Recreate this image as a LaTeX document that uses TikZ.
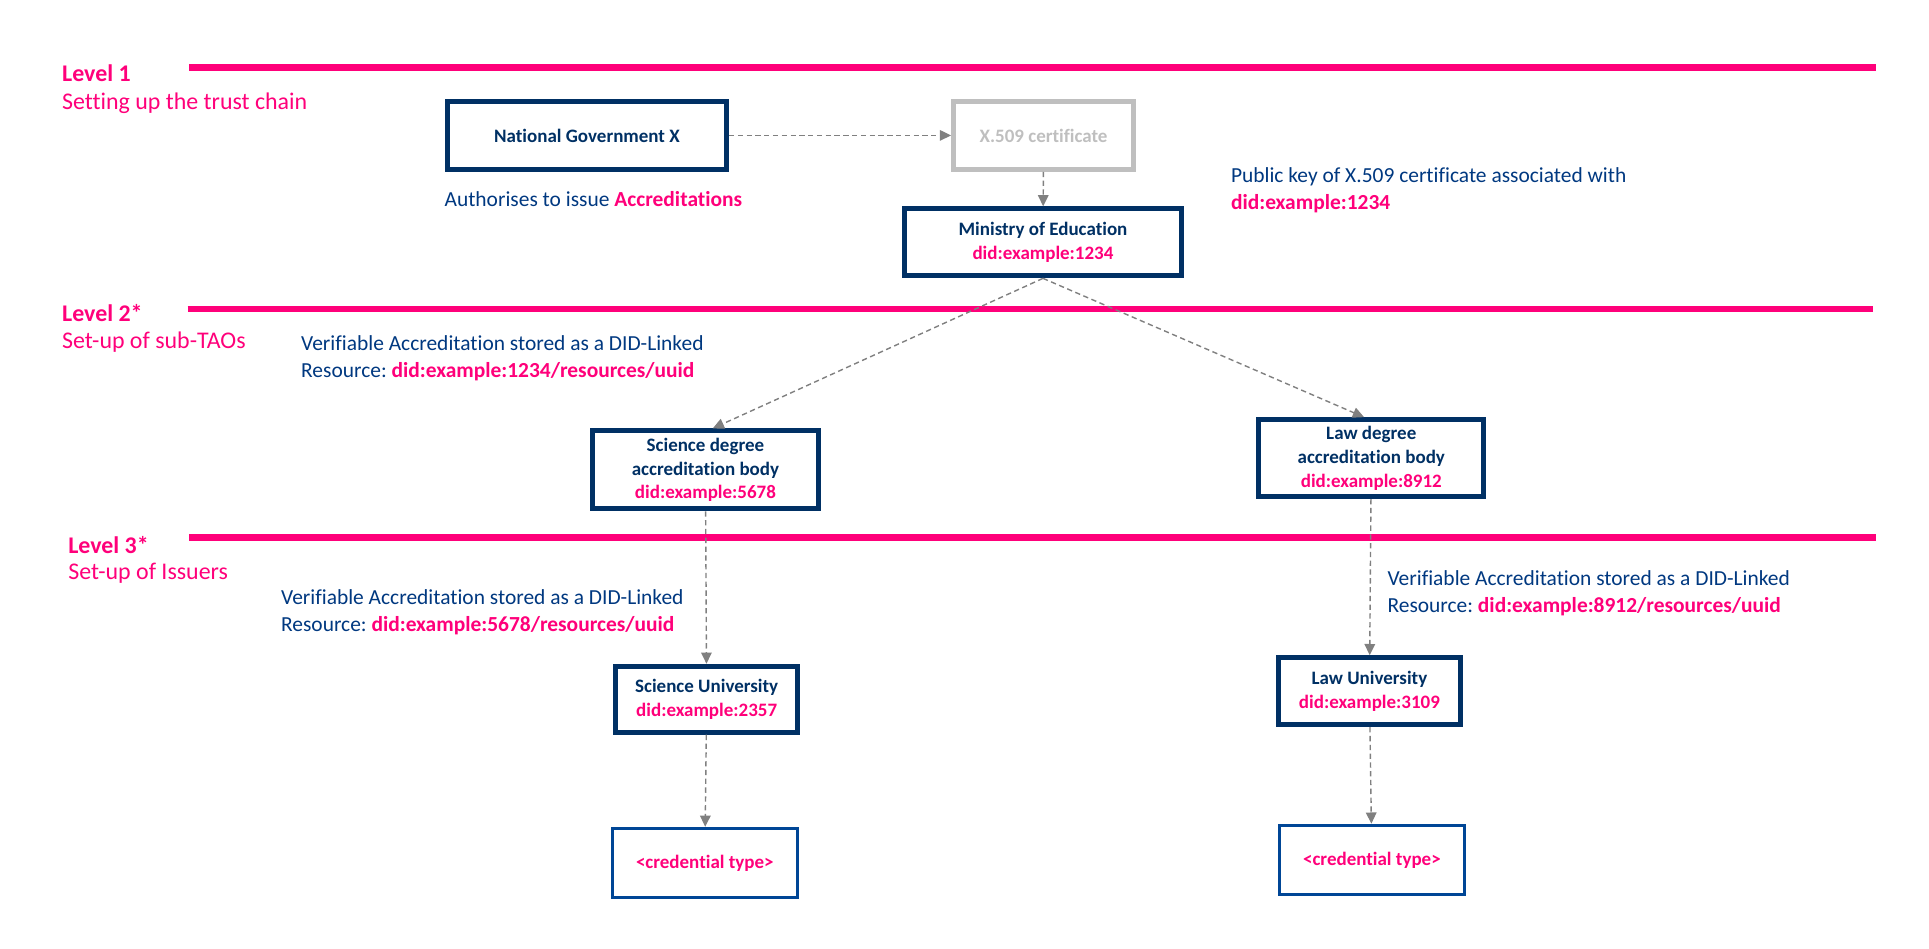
\documentclass[tikz,border=0pt]{standalone}
\usepackage{fontspec}
\setmainfont{Carlito}[Ligatures=NoCommon]
\usetikzlibrary{arrows.meta}
\frenchspacing

\definecolor{levelpink}{RGB}{255,0,122}
\definecolor{boxnavy}{RGB}{0,48,100}
\definecolor{textblue}{RGB}{0,56,128}
\definecolor{credblue}{RGB}{0,70,150}
\definecolor{certgray}{RGB}{191,191,191}
\definecolor{linkgray}{RGB}{128,128,128}

\begin{document}
\begin{tikzpicture}[x=0.012365cm, y=-0.012365cm]
  \tikzset{
    level line/.style={line width=1.9pt, levelpink},
    level title/.style={anchor=west, inner sep=0pt, text=levelpink, font=\fontsize{6.8}{8}\selectfont\bfseries},
    level sub/.style={anchor=west, inner sep=0pt, text=levelpink, font=\fontsize{6.8}{8}\selectfont},
    note/.style={anchor=west, inner sep=0pt, align=left, text=textblue, font=\fontsize{6.1}{7.7}\selectfont},
    entity/.style={draw=boxnavy, line width=1.4pt, align=center, text=boxnavy, inner sep=0pt, font=\fontsize{5.4}{6.8}\selectfont\bfseries},
    cred/.style={entity, draw=credblue, line width=1pt, text=levelpink},
    link/.style={->, >={Triangle[length=3.2pt,width=3pt]}, linkgray, dash pattern=on 1.5pt off 1pt, line width=0.4pt}
  }
  \useasboundingbox (0,0) rectangle (1560.05,766.7);

  % Level separators
  \draw[level line] (153,54.5) -- (1517,54.5);
  \draw[level line] (151.7,250) -- (1515,250);
  \draw[level line] (153,434.5) -- (1517,434.5);

  % Level captions
  \node[level title] (lvl1) at (49.7,59) {Level 1};
  \node[level sub] (lvl1sub) at (49.7,83.5) {Setting up the trust chain};
  \node[level title] (lvl2) at (49.7,253) {Level 2*};
  \node[level sub] (lvl2sub) at (49.7,277) {Set-up of sub-TAOs};
  \node[level title] (lvl3) at (54.7,441) {Level 3*};
  \node[level sub] (lvl3sub) at (54.7,463.5) {Set-up of Issuers};

  % Level 1 entities
  \node[entity, minimum width=2.79cm, minimum height=0.68cm] (govx) at (474.7,109.5) {National Government X};
  \node[entity, draw=certgray, text=certgray, minimum width=1.80cm, minimum height=0.68cm] (cert) at (844,109.5) {X.509 certificate};
  \node[entity, minimum width=2.77cm, minimum height=0.67cm] (moe) at (843.5,196) {Ministry of Education\\{\color{levelpink}did:example:1234}};

  % Level 2 entities
  \node[entity, minimum width=2.26cm, minimum height=0.78cm] (scideg) at (570.5,380) {Science degree\\accreditation body\\{\color{levelpink}did:example:5678}};
  \node[entity, minimum width=2.25cm, minimum height=0.77cm] (lawdeg) at (1109,370.5) {Law degree\\accreditation body\\{\color{levelpink}did:example:8912}};

  % Level 3 entities
  \node[entity, minimum width=1.82cm, minimum height=0.66cm] (sciuni) at (571.5,565.5) {Science University\\{\color{levelpink}did:example:2357}};
  \node[entity, minimum width=1.82cm, minimum height=0.67cm] (lawuni) at (1107.5,559) {Law University\\{\color{levelpink}did:example:3109}};
  \node[cred, minimum width=1.85cm, minimum height=0.69cm] (scicred) at (570,698) {<credential type>};
  \node[cred, minimum width=1.85cm, minimum height=0.69cm] (lawcred) at (1109.5,695.5) {<credential type>};

  % Notes
  \node[note] (auth) at (359,161) {Authorises to issue \textbf{\color{levelpink}Accreditations}};
  \node[note] (pubkey) at (995,153.5) {Public key of X.509 certificate associated with\\\textbf{\color{levelpink}did:example:1234}};
  \node[note] (vacc1) at (243,290) {Verifiable Accreditation stored as a DID-Linked\\Resource: {\bfseries\color{levelpink}did:example:1234/resources/uuid}};
  \node[note] (vacc2) at (226.8,495) {Verifiable Accreditation stored as a DID-Linked\\Resource: {\bfseries\color{levelpink}did:example:5678/resources/uuid}};
  \node[note] (vacc3) at (1121.6,480) {Verifiable Accreditation stored as a DID-Linked\\Resource: {\bfseries\color{levelpink}did:example:8912/resources/uuid}};

  % Links
  \draw[link] (govx) -- (cert);
  \draw[link] (cert) -- (moe);
  \draw[link] (moe.south) -- (scideg.80);
  \draw[link] (moe.south) -- (lawdeg.100);
  \draw[link] (scideg) -- (sciuni);
  \draw[link] (lawdeg) -- (lawuni);
  \draw[link] (sciuni) -- (scicred);
  \draw[link] (lawuni) -- (lawcred);

\end{tikzpicture}
\end{document}
